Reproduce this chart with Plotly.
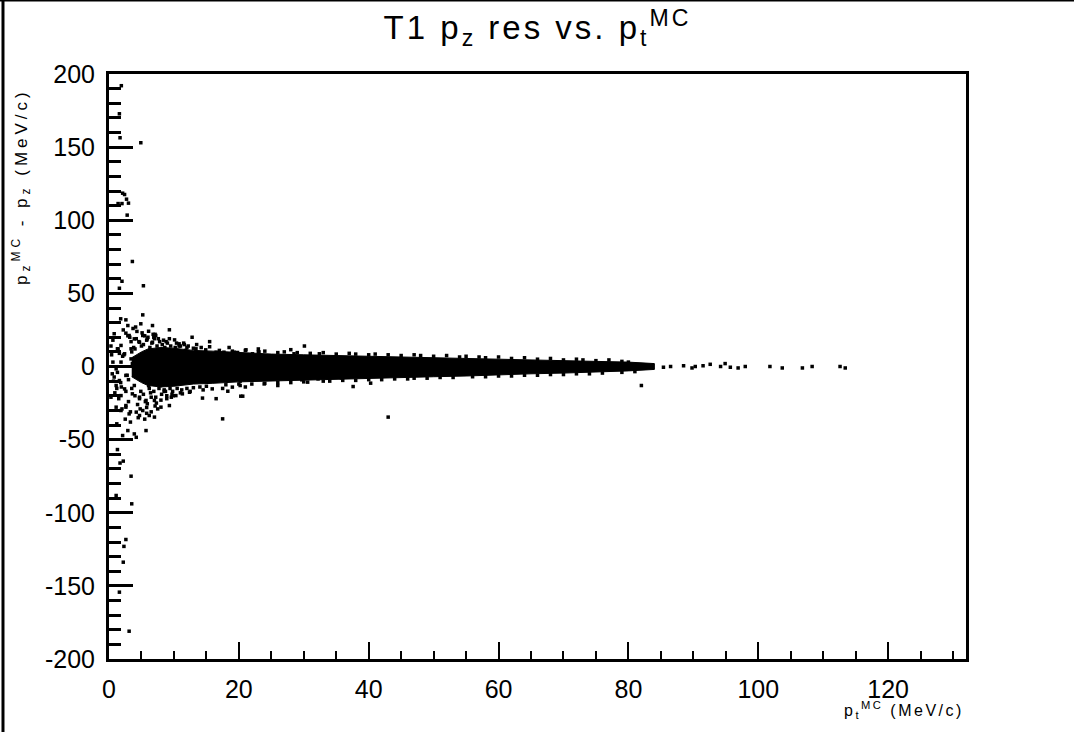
import plotly.graph_objects as go

# ---- dense core band (envelope) ----
band_x = [3.5, 5, 6, 8, 10, 13, 16, 20, 25, 30, 35, 40, 45, 50, 55, 60, 65, 70, 75, 80, 84]
band_hi = [6, 10, 12, 13, 12.5, 11, 10.5, 9.5, 8.5, 8, 7.5, 7, 6.5, 6, 5.5, 5, 4.5, 4, 3.5, 3, 2]
band_lo = [-7, -11, -13, -14, -13.5, -12, -11.5, -10.5, -9.5, -9, -8.5, -8, -7.5, -7, -6.5, -6, -5, -4.5, -4, -3, -2]

# ---- individual points ----
pts_x = [
    1.9, 1.6, 1.7, 4.9, 2.1, 2.4, 2.7, 3.0, 1.4, 2.0, 2.8, 3.6, 2.0, 1.6, 5.3, 5.2, 1.8, 2.6,
    4.9, 9.3, 6.1, 0.8, 2.6, 3.1, 5.2, 7.2, 5.9, 3.9, 4.7, 6.7, 10.8, 10.1, 1.85, 3.4, 1.6,
    0.6, 1.85, 1.1, 1.3, 2.6, 3.4, 2.4, 0.8, 1.6, 1.1, 2.4, 1.85, 3.6, 4.7, 5.7, 7.0, 8.0, 9.3,
    2.6, 4.2, 5.2, 5.9, 1.1, 1.85, 3.1, 4.7, 6.2, 7.0, 11.3, 10.3, 12.4, 14.4, 15.9, 18.3,
    20.3, 17.5, 5.7, 2.9, 3.9, 4.2, 2.1, 2.6, 1.2, 1.3, 2.2, 1.7, 3.4, 1.1, 3.5, 2.6, 2.3,
    2.2, 1.6, 3.1, 1.3,
    11.8, 13.4, 14.9, 16.5, 17.7, 19.3, 21.1, 22.1, 19.0, 19.8, 23.1, 28.5, 32.4, 25.7, 37.7,
    40.3, 19.0, 20.2, 20.6, 20.2, 23.9, 30.6, 32.2, 35.8, 37.6, 43.0, 29.7, 30.1,
    # upper blob near the origin
    3.2, 3.8, 4.3, 4.6, 5.0, 5.5, 5.8, 6.3, 6.6, 7.0, 7.4, 7.8, 8.2, 8.6, 9.0, 9.5, 10.2, 11.0,
    12.0, 13.0, 14.2, 15.5, 2.2, 2.9, 3.5, 4.1, 6.9, 8.8, 11.5, 12.8, 1.4, 0.5, 0.3, 0.9,
    # lower blob near the origin
    3.0, 3.5, 4.0, 4.4, 4.9, 5.3, 5.8, 6.2, 6.5, 6.9, 7.3, 7.7, 8.1, 8.5, 8.9, 9.4, 9.8, 10.5,
    11.2, 12.0, 13.0, 14.0, 15.0, 16.5, 2.0, 2.5, 3.3, 4.5, 5.5, 6.5, 7.5, 8.5, 1.5, 0.7, 2.8,
    3.6, 1.9, 2.3, 0.4,
    # more of the blob
    3.0, 3.4, 3.9, 4.2, 4.7, 5.1, 5.6, 6.0, 6.4, 6.8, 7.2, 7.6, 8.0, 8.4, 8.9, 9.3, 9.7, 10.4,
    11.0, 11.6, 12.5, 13.5, 14.5, 15.5, 16.5, 4.4, 4.0, 3.7, 5.3, 6.1, 7.1, 7.9, 8.7, 9.6, 10.8,
    2.6, 2.1, 1.8, 1.2, 0.6, 0.3, 2.9, 3.3, 4.8, 5.8, 6.7, 7.1, 9.9, 12.2, 17.5, 18.5, 21, 23,
    26, 28,
    # ragged upper edge of the band
    17, 19, 21, 23, 24, 26, 27, 29, 31, 33, 35, 37, 38, 40, 41, 43, 45, 47, 48, 50, 52, 54, 55,
    57, 58, 60, 62, 64, 66, 68, 70, 72, 73, 75, 77, 79, 80, 82,
    # ragged lower edge of the band
    18, 20, 22, 24, 26, 28, 30, 33, 34, 36, 38, 40, 42, 44, 46, 47, 49, 51, 53, 56, 58, 60, 62,
    64, 66, 68, 70, 72, 74, 76, 79, 81, 83,
    # sparse tail beyond the band
    85.4, 86.5, 88.5, 89.8, 90.3, 91.5, 92.6, 94.2, 94.9, 95.7, 96.9, 98.0, 101.8, 103.7,
    106.8, 108.3, 112.6, 113.4, 120.0,
]
pts_y = [
    192, 172.8, 156.4, 153, 118.5, 117.6, 114.4, 111.7, 111.4, 111.4, 103.5, 71.8, 58.3, 53.5,
    55.2, 35.3, 32.6, 31.9,
    29.2, 25.1, 24.1, 22.4, 22.8, 21.2, 21.2, 21.2, 18.9, 18.9, 16.6, 16.6, 15.5, 18.2, 14.4,
    12.1, 9.0, 3.0, 3.0, -1.6, -4.0, -6.1, 5.2, 8.7, -7.2, -9.6, -13.0, -15.3, -19.9, -18.7,
    -21.0, -23.2, -23.2, -27.8, -26.7, -26.7, -31.2, -30.1, -25.5, -27.8, -30.1, -32.4, -33.5,
    -33.5, -34.6, -18.7, -19.9, -17.6, -21.6, -15.3, -16.9, -20.3, -35.8, -43.8, -43.8, -46.1,
    -48.4, -47.2, -27.8, -39.2, -56.8, -64.7, -66.0, -75.0, -88.2, -93.9, -118.3, -123.0,
    -133.8, -154.3, -181.0,
    12.1, 11.0, 12.1, 11.4, 9.8, 9.8, 9.8, 11.4, 8.7, 9.1, 9.6, 10.0, 8.7, 8.7, 6.4, 6.0,
    -11.4, -14.1, -13.0, -20.3, -10.0, -11.9, -10.7, -8.5, -7.8, -13.7, -34.6, -9.1,
    # upper blob
    14, 20, 13, 24, 17, 14, 21, 18, 13, 16, 19, 14, 17, 15, 13, 16, 14, 13,
    14, 13, 12.5, 13, 17, 25, 28, 10, 27, 20, 17, 16, 20, 12, -5, 14,
    # lower blob
    -18, -24, -15, -20, -26, -17, -19, -28, -15, -21, -17, -25, -15, -19, -16, -22, -15, -17,
    -15, -16, -15, -14.5, -14, -13.5, -22, -29, -36, -38, -35, -36, -31, -29, -17, -22, -10,
    -6, 2, -14, 8,
    # more of the blob
    8, -9, 17, -13, 19, -22, 23, -24, 20, -18, 22, -21, 19, -23, 18, -20, 19, -19,
    16, -18, 15, -17, 15, -16, 13.5, 6, -3, 12, 26, 15, -13, -27, -13, -17, -21,
    14, -17, 7, -11, -15, 18, -21, 21, -31, -29, -32, 28, 22, -20, 14, -15, 13, -14,
    12, -13,
    # upper edge
    11.5, 11, 10.5, 11, 10, 10.5, 9.5, 10, 9.5, 9, 9.5, 8.5, 9, 8.5, 8, 8.5, 8, 7.5, 8, 7.5,
    7, 7.5, 6.5, 7, 6.5, 6, 6.5, 5.5, 6, 5, 5.5, 4.5, 5, 4.5, 4, 4.5, 3.5, 3,
    # lower edge
    -13, -12.5, -12, -12, -11.5, -11, -11, -10.5, -10, -10, -9.5, -9.5, -9, -9, -8.5, -8.5, -8,
    -8, -7.5, -7.5, -7, -7, -6.5, -6.5, -6, -6, -5.5, -5.5, -5, -5, -4.5, -4, -3.5,
    # tail
    0.7, -0.5, 0.0, 0.5, -1.0, 0.0, 0.5, 1.5, 0.0, 2.0, -0.5, -1.0, 0.0, 0.0, -1.0, -1.0,
    0.0, 0.0, -1.0,
]

x_range = [0, 132]
y_range = [-200, 200]
x_ticks = [0, 20, 40, 60, 80, 100, 120]
x_tick_labels = ["0", "20", "40", "60", "80", "100", "120"]
y_ticks = [-200, -150, -100, -50, 0, 50, 100, 150, 200]
y_tick_labels = ["-200", "-150", "-100", "-50", "0", "50", "100", "150", "200"]

fig = go.Figure()
fig.add_trace(go.Scatter(
    x=band_x + band_x[::-1], y=band_hi + band_lo[::-1],
    fill="toself", fillcolor="black", mode="lines",
    line=dict(color="black", width=1), hoverinfo="skip", showlegend=False,
))
fig.add_trace(go.Scatter(
    x=pts_x, y=pts_y, mode="markers",
    marker=dict(symbol="square", size=3.5, color="black", line=dict(width=0)),
    showlegend=False,
))

tickfont = dict(family="Liberation Sans, Arial, sans-serif", size=25, color="black")

fig.update_xaxes(
    range=x_range, tickvals=x_ticks, ticktext=x_tick_labels,
    ticks="inside", ticklen=17, tickwidth=2, tickcolor="black",
    minor=dict(dtick=5, tick0=0, ticks="inside", ticklen=8, tickwidth=2, tickcolor="black"),
    showline=True, linewidth=3, linecolor="black", mirror=True,
    showgrid=False, zeroline=False, tickfont=tickfont, ticklabelstandoff=6,
)
fig.update_yaxes(
    range=y_range, tickvals=y_ticks, ticktext=y_tick_labels,
    ticks="inside", ticklen=24, tickwidth=2.5, tickcolor="black",
    minor=dict(dtick=10, tick0=0, ticks="inside", ticklen=12, tickwidth=2.5, tickcolor="black"),
    showline=True, linewidth=3, linecolor="black", mirror=True,
    showgrid=False, zeroline=False, tickfont=tickfont, ticklabelstandoff=6,
)

fig.update_layout(
    width=1074, height=732,
    margin=dict(l=109, r=108, t=74, b=73),
    paper_bgcolor="white", plot_bgcolor="white",
    showlegend=False,
    title=dict(
        text='<span style="letter-spacing:3px">T1 p<sub>z</sub> res vs. p<sub>t</sub><sup>MC</sup></span>',
        x=0.5, xanchor="center", xref="paper",
        y=0.962, yanchor="middle", yref="container",
        font=dict(family="Liberation Sans, Arial, sans-serif", size=33, color="black"),
    ),
    annotations=[
        dict(
            text='<span style="letter-spacing:2.5px">p<sub>t</sub><sup>MC</sup> (MeV/c)</span>',
            xref="paper", yref="paper", x=1.0, y=-0.088, xanchor="right", yanchor="middle",
            showarrow=False,
            font=dict(family="Liberation Sans, Arial, sans-serif", size=16, color="black"),
        ),
        dict(
            text='<span style="letter-spacing:4px">p<sub>z</sub><sup>MC</sup> - p<sub>z</sub> (MeV/c)</span>',
            xref="paper", yref="paper", x=-0.103, y=0.98, xanchor="center", yanchor="top",
            textangle=-90, showarrow=False,
            font=dict(family="Liberation Sans, Arial, sans-serif", size=17, color="black"),
        ),
    ],
    shapes=[
        dict(type="line", xref="paper", yref="paper", x0=-0.1237, x1=-0.1237, y0=-0.2, y1=1.13,
             line=dict(color="black", width=3)),
        dict(type="line", xref="paper", yref="paper", x0=-0.2, x1=1.2, y0=1.1265, y1=1.1265,
             line=dict(color="black", width=3)),
    ],
)

fig.write_html("out.html", post_script="document.body.style.margin='0';",
               config={"displayModeBar": False})
